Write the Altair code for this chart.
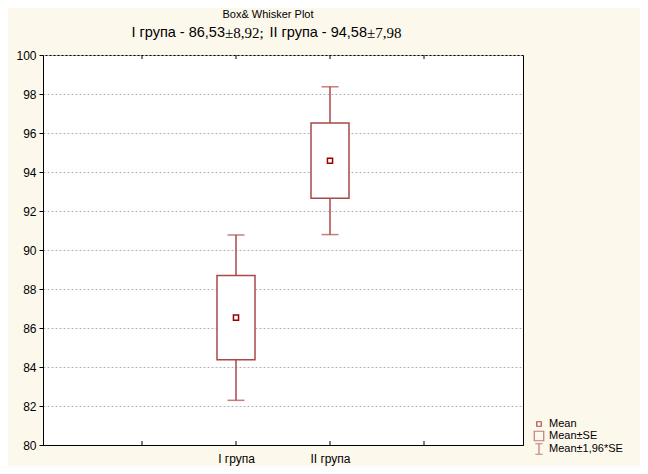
import altair as alt
import pandas as pd

# ---- data ----
groups = ["I група", "II група"]
positions = [2, 3]
means = [86.53, 94.58]
se_low = [84.37, 92.65]
se_high = [88.69, 96.51]
ci_low = [82.29, 90.79]
ci_high = [90.77, 98.37]
x_ticks = [1, 2, 3, 4]
y_ticks = [80, 82, 84, 86, 88, 90, 92, 94, 96, 98, 100]

title1 = "Box& Whisker Plot"
sub_parts = ["I група - 86,53", "±8,92;", "II група - 94,58", "±7,98"]
legend_labels = ["Mean", "Mean±SE", "Mean±1,96*SE"]

W, H = 480, 390
RED = "#a8494a"
DARK = "#990000"
FONT = "Liberation Sans"

df = pd.DataFrame({
    "group": groups, "pos": positions, "mean": means,
    "se_low": se_low, "se_high": se_high,
    "ci_low": ci_low, "ci_high": ci_high,
})
ticks_df = pd.DataFrame({"pos": x_ticks})

xscale = alt.Scale(domain=[0, 5], nice=False, zero=False)
yscale = alt.Scale(domain=[80, 100], nice=False, zero=False)

label_expr = "datum.value == 2 ? 'I група' : datum.value == 3 ? 'II група' : ''"

xaxis = alt.Axis(values=x_ticks, labelExpr=label_expr, ticks=False,
                 grid=False, domainColor="black", labelColor="black",
                 labelFontSize=12, labelFont=FONT, labelPadding=8,
                 labelFlush=False, labelOverlap=False)
yaxis = alt.Axis(values=y_ticks, tickCount=11, grid=True, gridDash=[2, 2],
                 gridColor="#b4b4b4", tickColor="black", tickSize=4,
                 domainColor="black", labelColor="black",
                 labelFontSize=12, labelFont=FONT, labelPadding=3,
                 labelOverlap=False)

def X(f):
    return alt.X(f, type="quantitative", scale=xscale, axis=xaxis, title=None)

def Y(f):
    return alt.Y(f, type="quantitative", scale=yscale, axis=yaxis, title=None)

base = alt.Chart(df)

whisker = base.mark_rule(color=RED, strokeWidth=1.5).encode(
    x=X("pos"), y=Y("ci_low"), y2="ci_high:Q")

caps_low = base.mark_tick(color=RED, orient="horizontal", size=17, thickness=1.5).encode(
    x=X("pos"), y=Y("ci_low"))
caps_high = base.mark_tick(color=RED, orient="horizontal", size=17, thickness=1.5).encode(
    x=X("pos"), y=Y("ci_high"))

box = base.mark_bar(size=38, fill="white", stroke=RED, strokeWidth=1.5).encode(
    x=X("pos"), y=Y("se_low"), y2="se_high:Q")

mean_pt = base.mark_square(size=26, filled=False, stroke=DARK, strokeWidth=1.5, opacity=1).encode(
    x=X("pos"), y=Y("mean"))

tick_bottom = alt.Chart(ticks_df).mark_rule(color="black", strokeWidth=1).encode(
    x=X("pos"), y=alt.value(H), y2=alt.value(H - 4))
tick_top = alt.Chart(ticks_df).mark_rule(color="black", strokeWidth=1).encode(
    x=X("pos"), y=alt.value(0), y2=alt.value(4))

one = pd.DataFrame({"a": [0]})

def txt(s, x, y, size, align="left", font=FONT):
    return alt.Chart(one).mark_text(text=s, align=align, baseline="middle",
                                    fontSize=size, font=font, color="black").encode(
        x=alt.value(x), y=alt.value(y))

t1 = txt(title1, 225, -40, 11, align="center")
s1 = txt(sub_parts[0], 182, -22, 14.5, align="right")
s2 = txt(sub_parts[1], 182, -22, 15, align="left", font="Liberation Serif")
s3 = txt(sub_parts[2], 324, -22, 14.5, align="right")
s4 = txt(sub_parts[3], 324, -22, 15, align="left", font="Liberation Serif")

leg_x_sym, leg_x_txt = 496, 506
leg_y = [369, 381, 394]
l_mean = alt.Chart(one).mark_square(size=20, filled=False, stroke=DARK, strokeWidth=1.2).encode(
    x=alt.value(leg_x_sym), y=alt.value(leg_y[0]))
l_se = alt.Chart(one).mark_square(size=90, filled=False, stroke=RED, strokeWidth=1.2).encode(
    x=alt.value(leg_x_sym), y=alt.value(leg_y[1]))
l_ci = alt.Chart(one).mark_point(shape="M-0.7,-1L0.7,-1M0,-1L0,1M-0.7,1L0.7,1",
                                 size=110, filled=False, stroke=RED, strokeWidth=1.2).encode(
    x=alt.value(leg_x_sym), y=alt.value(leg_y[2]))
lt = [txt(legend_labels[i], leg_x_txt, leg_y[i], 11) for i in range(3)]

chart = alt.layer(
    whisker, caps_low, caps_high, box, mean_pt, tick_bottom, tick_top,
    t1, s1, s2, s3, s4, l_mean, l_se, l_ci, *lt
).properties(
    width=W, height=H,
    background="#fdf8ec",
    padding={"left": 35, "top": 47, "right": 117, "bottom": 21},
    autosize=alt.AutoSizeParams(type="none"),
).configure_view(fill="white", stroke="black", strokeWidth=1)

chart.save("out.html", embed_options={"renderer": "svg", "actions": False})
